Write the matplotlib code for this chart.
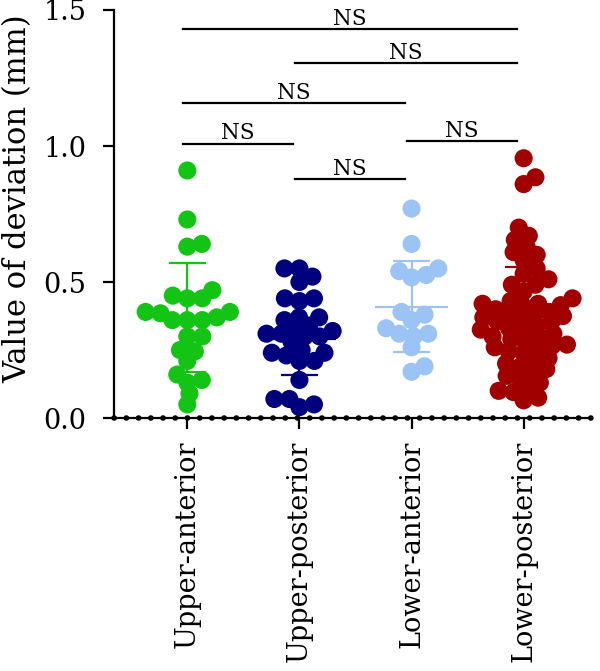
import numpy as np
import matplotlib
matplotlib.use("Agg")
import matplotlib.pyplot as plt

plt.rcParams["font.family"] = ["DejaVu Serif"]

GROUPS = ["Upper-anterior", "Upper-posterior", "Lower-anterior", "Lower-posterior"]
COLORS = ["#14c414", "#00007f", "#9cc3f5", "#a00000"]

UPPER_ANT = [0.91, 0.73, 0.64, 0.63, 0.47, 0.45, 0.44, 0.44, 0.39, 0.39, 0.385, 0.37, 0.36,
             0.36, 0.36, 0.30, 0.30, 0.25, 0.245, 0.21, 0.16, 0.14, 0.13, 0.09, 0.05]
UPPER_POST = [0.55, 0.55, 0.52, 0.50, 0.44, 0.44, 0.43, 0.37, 0.37, 0.36, 0.34, 0.33, 0.32,
              0.31, 0.31, 0.30, 0.30, 0.28, 0.25, 0.24, 0.24, 0.23, 0.21, 0.21, 0.14,
              0.07, 0.07, 0.05, 0.04]
LOWER_ANT = [0.77, 0.64, 0.55, 0.54, 0.526, 0.517, 0.39, 0.38, 0.36, 0.33, 0.31, 0.31,
             0.30, 0.26, 0.19, 0.17]
LOWER_POST = [0.955, 0.885, 0.86,
              0.70, 0.67, 0.655, 0.63, 0.61, 0.60, 0.58,
              0.55, 0.53, 0.51, 0.49, 0.49, 0.465, 0.44,
              0.43, 0.42, 0.42, 0.415, 0.41, 0.40, 0.39, 0.385,
              0.38, 0.375, 0.37, 0.36, 0.355, 0.35, 0.34, 0.33,
              0.325, 0.32, 0.31, 0.30, 0.30, 0.29, 0.28, 0.27, 0.265,
              0.26, 0.25, 0.245, 0.24, 0.22, 0.21, 0.20, 0.19, 0.18,
              0.165, 0.155, 0.14, 0.13, 0.105, 0.10, 0.095, 0.075, 0.065]
VALUES = [UPPER_ANT, UPPER_POST, LOWER_ANT, LOWER_POST]

# mean and SD as drawn on the figure
MEANS = [0.37, 0.29, 0.41, 0.37]
SDS = [0.20, 0.13, 0.167, 0.185]

# pairwise comparisons: (group a, group b), bracket height, label
PAIRS = [(1, 4), (2, 4), (1, 3), (1, 2), (3, 4), (2, 3)]
PAIR_Y = [1.43, 1.305, 1.157, 1.009, 1.018, 0.878]
PAIR_LABEL = ["NS", "NS", "NS", "NS", "NS", "NS"]

fig = plt.figure(figsize=(6, 6.71), dpi=100)
ax = fig.add_axes([0.19, 0.377, 0.7967, 0.6081])
ax.set_xlim(0.346, 4.61)
ax.set_ylim(0, 1.5)

def swarm(xc, vals, dx=15.0, dy=11.0):
    # beeswarm in display pixels with an elliptical exclusion zone,
    # each point takes the free slot nearest the centre
    vals = np.asarray(vals, float)
    pts = ax.transData.transform(np.column_stack([np.full(len(vals), xc), vals]))
    off = np.zeros(len(vals))
    placed = []
    for k in np.argsort(vals):
        y = pts[k, 1]
        cands = [0.0]
        for px, py in placed:
            r = abs(py - y) / dy
            if r < 1:
                w = dx * np.sqrt(1 - r * r)
                cands += [px + w, px - w]
        cands.sort(key=abs)
        for c in cands:
            if all(((c - px) / dx) ** 2 + ((y - py) / dy) ** 2 >= 1 - 1e-6 for px, py in placed):
                break
        placed.append((c, y)); off[k] = c
    back = ax.transData.inverted().transform(np.column_stack([pts[:, 0] + off, pts[:, 1]]))
    return back[:, 0]

for i, (vals, col, m, s) in enumerate(zip(VALUES, COLORS, MEANS, SDS), start=1):
    ax.scatter(swarm(i, vals), vals, s=170, color=col, edgecolors="none", zorder=3)
    ax.vlines(i, m - s, m + s, color=col, lw=1.6, zorder=4)
    ax.hlines([m - s, m + s], i - 0.165, i + 0.165, color=col, lw=1.6, zorder=4)
    ax.hlines(m, i - 0.326, i + 0.326, color=col, lw=1.6, zorder=4)

for (a, b), y, lab in zip(PAIRS, PAIR_Y, PAIR_LABEL):
    x0, x1 = a - 0.04, b - 0.06
    ax.plot([x0, x1], [y, y], color="black", lw=1.6, clip_on=False, zorder=4)
    ax.annotate(lab, ((x0 + x1) / 2, y), xytext=(0, 3), textcoords="offset points",
                ha="center", va="baseline", fontsize=15.5, annotation_clip=False)

# dotted x axis line
ax.axhline(0, color="black", lw=4.0, ls=(0, (0.05, 2.15)), dash_capstyle="round",
           clip_on=False, zorder=6)

for s in ("top", "right"):
    ax.spines[s].set_visible(False)
for s in ("left", "bottom"):
    ax.spines[s].set_linewidth(1.6)
ax.set_yticks([0, 0.5, 1.0, 1.5])
ax.set_yticklabels(["0.0", "0.5", "1.0", "1.5"])
ax.set_xticks(range(1, 5))
ax.set_xticklabels(GROUPS, rotation=90)
ax.tick_params(axis="both", direction="out", length=8, width=1.6)
ax.tick_params(axis="y", pad=12, labelsize=19.5)
ax.tick_params(axis="x", pad=8, labelsize=19.5)

fig.text(17.5 / 600, 1 - 198.5 / 671, "Value of deviation (mm)", rotation=90,
         ha="center", va="center", fontsize=22)

fig.savefig("out.png", dpi=100)
